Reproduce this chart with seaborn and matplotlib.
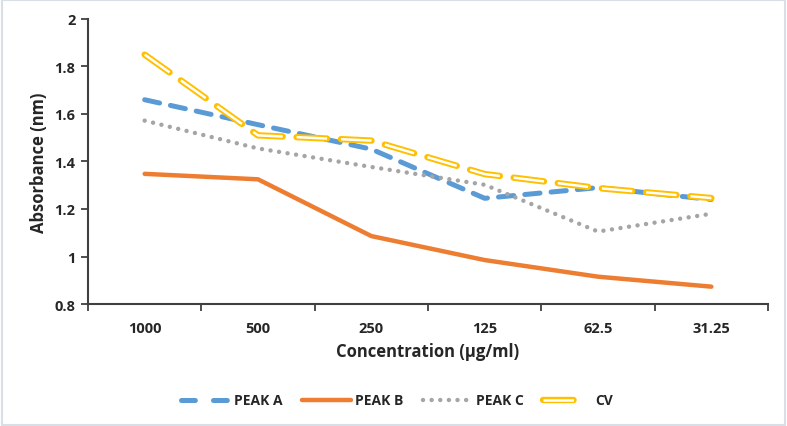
import matplotlib
matplotlib.use("Agg")
import matplotlib.pyplot as plt
import matplotlib.patches as patches
import matplotlib.patheffects as pe
from matplotlib.lines import Line2D
import numpy as np
import pandas as pd
import seaborn as sns

# data
concentrations = ['1000', '500', '250', '125', '62.5', '31.25']
peak_a = [1.66, 1.555, 1.452, 1.245, 1.29, 1.24]
peak_b = [1.348, 1.325, 1.086, 0.985, 0.915, 0.873]
peak_c = [1.572, 1.455, 1.377, 1.302, 1.105, 1.18]
cv = [1.85, 1.51, 1.488, 1.347, 1.288, 1.246]

sns.set_theme(style="white")
plt.rcParams['font.family'] = ['Open Sans', 'DejaVu Sans']
plt.rcParams['font.weight'] = 'bold'
plt.rcParams['lines.scale_dashes'] = False

fig = plt.figure(figsize=(7.87, 4.27), dpi=100)
ax = fig.add_axes([0.1118, 0.2857, 0.8641, 0.6675])

pos = np.arange(len(concentrations))
df = pd.DataFrame({'pos': pos, 'PEAK A': peak_a, 'PEAK B': peak_b,
                   'PEAK C': peak_c, 'CV': cv})

blue, orange, gray, gold = '#5B9BD5', '#ED7D31', '#A5A5A5', '#FFC000'

sns.lineplot(data=df, x='pos', y='PEAK A', ax=ax, color=blue, lw=3.6,
             dashes=False, linestyle=(0, (11, 8)), dash_capstyle='round')
sns.lineplot(data=df, x='pos', y='PEAK B', ax=ax, color=orange, lw=3.2,
             solid_capstyle='round')
sns.lineplot(data=df, x='pos', y='PEAK C', ax=ax, color=gray, lw=3.2,
             linestyle=(0, (0.01, 6.2)), dash_capstyle='round')
cv_effects = [pe.withStroke(linewidth=4.6, foreground=gold, capstyle='round')]
sns.lineplot(data=df, x='pos', y='CV', ax=ax, color='white', lw=1.8,
             linestyle=(0, (22, 10)), dash_capstyle='butt',
             path_effects=cv_effects)

ax.set_xlim(-0.5, len(concentrations) - 0.5)
ax.set_ylim(0.8, 2.0)
ax.set_yticks(np.arange(0.8, 2.01, 0.2))
ax.set_yticklabels(['0.8', '1', '1.2', '1.4', '1.6', '1.8', '2'])
ax.set_xticks(pos)
ax.set_xticklabels(concentrations)
ax.set_xticks(np.arange(-0.5, len(concentrations), 1), minor=True)
ax.tick_params(axis='x', which='major', length=0, pad=12, labelsize=10.5)
ax.tick_params(axis='x', which='minor', length=5, width=1.3, color='#404040',
               direction='out', bottom=True)
ax.tick_params(axis='y', length=5, width=1.3, color='#404040',
               direction='out', left=True, labelsize=10.5, pad=4)
for lbl in ax.get_xticklabels() + ax.get_yticklabels():
    lbl.set_fontweight('bold')

for side in ['top', 'right']:
    ax.spines[side].set_visible(False)
for side in ['left', 'bottom']:
    ax.spines[side].set_color('#404040')
    ax.spines[side].set_linewidth(1.5)

ax.set_xlabel('Concentration (µg/ml)', fontsize=12, fontweight='bold', labelpad=5)
ax.set_ylabel('Absorbance (nm)', fontsize=12, fontweight='bold', labelpad=5)

handles = [
    Line2D([], [], color=blue, lw=3.6, linestyle=(0, (10, 13)), dash_capstyle='round'),
    Line2D([], [], color=orange, lw=3.2),
    Line2D([], [], color=gray, lw=3.2, linestyle=(0, (0.01, 6.2)), dash_capstyle='round'),
    Line2D([], [], color='white', lw=1.8, linestyle=(0, (22, 40)),
           path_effects=cv_effects),
]
fig.legend(handles, ['PEAK A', 'PEAK B', 'PEAK C', 'CV'], loc='center',
           bbox_to_anchor=(0.505, 0.06), ncol=4, frameon=False,
           handlelength=3.5, handletextpad=0.3, columnspacing=1.4,
           prop={'weight': 'bold', 'size': 10})

fig.patches.append(patches.Rectangle((0.002, 0.003), 0.996, 0.994,
                                     transform=fig.transFigure, fill=False,
                                     edgecolor='#D9DFE7', lw=1.5))

fig.savefig('out.png', dpi=100)
